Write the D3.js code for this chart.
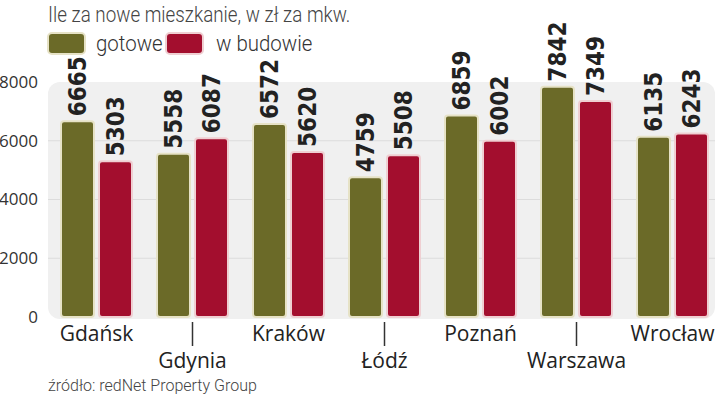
<!DOCTYPE html>
<html><head><meta charset="utf-8">
<script src="https://cdn.jsdelivr.net/npm/d3@7"></script>
<style>body{margin:0;background:#fff}svg{display:block}</style>
</head><body>
<svg id="c" width="720" height="397"></svg>
<script>
const categories = ["Gdańsk","Gdynia","Kraków","Łódź","Poznań","Warszawa","Wrocław"];
const seriesNames = ["gotowe","w budowie"];
const gotowe = [6665,5558,6572,4759,6859,7842,6135];
const wBudowie = [5303,6087,5620,5508,6002,7349,6243];
const yTicks = [0,2000,4000,6000,8000];
const title = "Ile za nowe mieszkanie, w zł za mkw.";
const source = "źródło: redNet Property Group";
const colors = ["#6b6a28","#a30e2e"];
const strokes = ["#e6e2c6","#efcfd2"];
const light = "Roboto, sans-serif";

const svg = d3.select("#c");
const y = d3.scaleLinear().domain([0,8000]).range([317,82]);
const x0 = d3.scaleBand().domain(categories).range([48.5,720.5]);
const x1 = d3.scaleBand().domain(seriesNames).range([x0.bandwidth()/2-35.5, x0.bandwidth()/2+35.5]).paddingInner(5/38);

svg.append("rect").attr("x",48).attr("y",y(8000)).attr("width",667).attr("height",y(0)-y(8000)+2)
  .attr("rx",12).attr("fill","#f0f0f0");
svg.selectAll("line.grid").data(yTicks.filter(d=>d>0&&d<8000)).join("line")
  .attr("x1",48).attr("x2",715).attr("y1",d=>y(d)).attr("y2",d=>y(d))
  .attr("stroke","#dcdcdc").attr("stroke-width",1);
const yAxis = svg.append("g").attr("transform","translate(38,0)")
  .call(d3.axisLeft(y).tickValues(yTicks).tickSize(0).tickPadding(0).tickFormat(d3.format("d")));
yAxis.select(".domain").remove();
yAxis.selectAll("text").attr("font-family","Open Sans, sans-serif").attr("font-size",17).attr("fill","#333");

const data = categories.map((c,i)=>({c, vals:[gotowe[i], wBudowie[i]]}));
const g = svg.selectAll("g.grp").data(data).join("g").attr("transform",d=>`translate(${x0(d.c)},0)`);
g.selectAll("rect").data(d=>d.vals.map((v,j)=>({v,j}))).join("rect")
  .attr("x",d=>x1(seriesNames[d.j])).attr("width",x1.bandwidth())
  .attr("y",d=>y(d.v)).attr("height",d=>y(0)-y(d.v)).attr("rx",3)
  .attr("fill",d=>colors[d.j]).attr("stroke",d=>strokes[d.j]).attr("stroke-width",2);
g.selectAll("text.val").data(d=>d.vals.map((v,j)=>({v,j}))).join("text")
  .attr("class","val")
  .attr("transform",d=>`translate(${x1(seriesNames[d.j])+x1.bandwidth()/2+8.5},${y(d.v)-5}) rotate(-90)`)
  .attr("font-family","DejaVu Sans Condensed, DejaVu Sans, sans-serif").attr("font-weight","bold")
  .attr("font-size",24).attr("fill","#222").text(d=>d.v);

const cat = svg.selectAll("g.cat").data(categories).join("g")
  .attr("transform",d=>`translate(${x0(d)+x0.bandwidth()/2},0)`);
cat.filter((d,i)=>i%2===1).append("line").attr("x1",0).attr("x2",0).attr("y1",322).attr("y2",346)
  .attr("stroke","#333").attr("stroke-width",1.5);
cat.append("text").attr("text-anchor","middle").attr("y",(d,i)=>i%2===0?341:368)
  .attr("font-family","Open Sans, sans-serif").attr("font-size",21).attr("fill","#222").text(d=>d);

svg.append("text").attr("transform","translate(48,22) scale(0.855,1)").attr("font-family",light).attr("font-weight",300)
  .attr("font-size",22).attr("fill","#444").text(title);
const lx = [48,166], tx = [96,216];
seriesNames.forEach((s,i)=>{
  svg.append("rect").attr("x",lx[i]).attr("y",33).attr("width",37).attr("height",21).attr("rx",4)
    .attr("fill",colors[i]).attr("stroke",strokes[i]).attr("stroke-width",2);
  svg.append("text").attr("transform",`translate(${tx[i]},51) scale(0.93,1)`).attr("font-family",light).attr("font-weight",300)
    .attr("font-size",22).attr("fill","#333").text(s);
});
svg.append("text").attr("x",48).attr("y",391).attr("font-family",light).attr("font-weight",300)
  .attr("font-size",16).attr("fill","#444").text(source);
</script>
</body></html>
